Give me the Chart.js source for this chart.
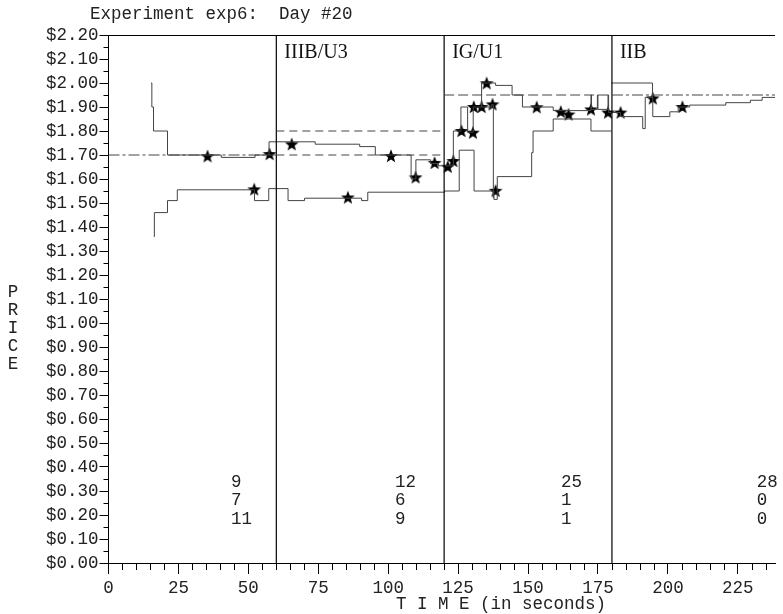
<!DOCTYPE html>
<html><head><meta charset="utf-8">
<script src="https://cdn.jsdelivr.net/npm/chart.js@4.4.1/dist/chart.umd.min.js"></script>
<style>html,body{margin:0;padding:0;background:#fff;}canvas{display:block;}</style>
</head><body>
<canvas id="c" width="783" height="614"></canvas>
<script>
// ---------------- data ----------------
const chartTitle = 'Experiment exp6:  Day #20';
const xTitle = 'T I M E (in seconds)';
const yTitle = 'PRICE';
const xTicks = [0, 25, 50, 75, 100, 125, 150, 175, 200, 225];
const yTicks = [0.00,0.10,0.20,0.30,0.40,0.50,0.60,0.70,0.80,0.90,1.00,1.10,1.20,1.30,1.40,1.50,1.60,1.70,1.80,1.90,2.00,2.10,2.20];
const xMax = 238.3;
const periodBounds = [0, 60, 120, 180, xMax];
const periodLabels = ['', 'IIIB/U3', 'IG/U1', 'IIB'];
const periodCounts = [[9, 7, 11], [12, 6, 9], [25, 1, 1], [28, 0, 0]];
const countX = [43.8, 102.4, 161.8, 231.8];
const eqPrices = [[1.70], [1.80, 1.70], [1.95], [1.95]];

// step lines: [time, price] - price holds from that time on
const askLine = [[15.2,2.00],[15.5,1.90],[16.1,1.80],[21.1,1.70],[40.3,1.69],[52.4,1.70],[57.4,1.755],
  [73.9,1.745],[89.8,1.735],[95.4,1.70],[108.2,1.60],[109.9,1.68],[115.2,1.665],[118,1.655],
  [123.3,1.80],[126,1.90],[128.4,1.795],[130.4,1.90],[133.4,2.00],[138.4,1.99],[144.3,1.95],
  [148,1.90],[159,1.885],[172.5,1.95],[172.7,1.89],[174.8,1.95],[175,1.89],[178.6,1.95],
  [178.8,1.877],[183.1,1.86],[191,1.81],[191.9,1.94],[194.6,1.86],[200.7,1.88],[203.7,1.90],
  [207.8,1.908],[220.7,1.918],[229.5,1.928],[233.7,1.94],[238.3,1.94]];
const bidLine = [[16.2,1.36],[16.4,1.46],[21.1,1.51],[24.6,1.555],[52.2,1.51],[57.3,1.56],[64.2,1.51],
  [70.1,1.52],[90.5,1.51],[92.7,1.545],[120.2,1.55],[125.4,1.72],[130.7,1.55],[137.8,1.515],
  [139.0,1.61],[151.3,1.71],[151.8,1.80],[159,1.85],[172.5,1.80],[179.8,1.80]];
const jumpLine = [[133.4,1.90],[137.0,1.91],[137.6,1.52]];
const lateAskLine = [[179.8,2.00],[194.3,2.00],[194.5,1.94]];

const tradeT = [35.4,52.1,57.6, 65.5,85.6,101,109.8,116.6,
  121.3,123.3,126.2,130.3,130.6,133.4,135.2,137.3,138.4,153.1,161.7,164.5,172.5,178.6,
  183.1,194.6,205.2];
const tradeP = [1.695,1.557,1.704, 1.745,1.523,1.696,1.607,1.667,
  1.651,1.675,1.80,1.793,1.90,1.90,1.999,1.911,1.551,1.899,1.88,1.869,1.89,1.877,
  1.877,1.936,1.90];

// ---------------- helpers ----------------
const MONO = "'Liberation Mono','DejaVu Sans Mono',monospace";
const SERIF = "'Liberation Serif','DejaVu Serif',serif";
const pts = a => a.map(([x, y]) => ({x, y}));

function makeStar(){
  const c = document.createElement('canvas');
  c.width = 16; c.height = 16;
  const g = c.getContext('2d');
  g.fillStyle = '#000';
  g.beginPath();
  for (let i = 0; i < 10; i++) {
    const r = i % 2 === 0 ? 7.2 : 3.0;
    const a = -Math.PI / 2 + i * Math.PI / 5;
    const px = 8 + r * Math.cos(a), py = 8.5 + r * Math.sin(a);
    i === 0 ? g.moveTo(px, py) : g.lineTo(px, py);
  }
  g.closePath(); g.fill();
  return c;
}
const star = makeStar();

const datasets = [];
// equilibrium lines
eqPrices.forEach((list, i) => {
  const dashDot = (i === 0 || i === 3);
  list.forEach(p => datasets.push({
    type: 'line', data: [{x: periodBounds[i], y: p}, {x: periodBounds[i + 1], y: p}],
    borderColor: '#444', borderWidth: 1, borderDash: dashDot ? [11, 3, 3, 3] : (i === 1 ? [8, 5] : [10, 4]),
    pointRadius: 0, fill: false
  }));
});
// period separators
periodBounds.slice(1, 4).forEach(t => datasets.push({
  type: 'line', data: [{x: t, y: 0}, {x: t, y: 2.2}],
  borderColor: '#000', borderWidth: 1.2, pointRadius: 0, fill: false
}));
// step lines
[askLine, bidLine, jumpLine, lateAskLine].forEach(a => datasets.push({
  type: 'line', data: pts(a), stepped: 'before',
  borderColor: '#444', borderWidth: 1, pointRadius: 0, fill: false
}));
// trades
datasets.push({
  type: 'scatter', data: tradeT.map((t, i) => ({x: t, y: tradeP[i]})),
  pointStyle: star, pointRadius: 7, pointHoverRadius: 7
});

const decor = {
  id: 'decor',
  afterDraw(chart) {
    const {ctx, chartArea: ca, scales: {x, y}} = chart;
    ctx.save();
    ctx.strokeStyle = '#000'; ctx.lineWidth = 1;
    // top frame line
    ctx.beginPath(); ctx.moveTo(ca.left, ca.top + 0.5); ctx.lineTo(ca.right, ca.top + 0.5); ctx.stroke();
    // minor ticks
    ctx.beginPath();
    for (let t = 5; t < xMax; t += 5) {
      if (t % 25 === 0) continue;
      const px = Math.round(x.getPixelForValue(t)) + 0.5;
      ctx.moveTo(px, ca.bottom); ctx.lineTo(px, ca.bottom + 7);
    }
    for (let i = 0; i < yTicks.length - 1; i++) {
      const py = Math.round(y.getPixelForValue(yTicks[i] + 0.05)) + 0.5;
      ctx.moveTo(ca.left - 5, py); ctx.lineTo(ca.left, py);
    }
    ctx.stroke();
    ctx.fillStyle = '#222';
    // title
    ctx.font = '17.5px ' + MONO; ctx.textAlign = 'left'; ctx.textBaseline = 'middle';
    ctx.fillText(chartTitle, 90, 14);
    // x title
    ctx.textAlign = 'center';
    ctx.fillText(xTitle, 501, 604);
    // y title, stacked letters
    yTitle.split('').forEach((ch, i) => ctx.fillText(ch, 13, 292 + i * 18));
    // counts
    ctx.textAlign = 'left';
    periodCounts.forEach((rows, i) => {
      const px = x.getPixelForValue(countX[i]);
      rows.forEach((v, r) => ctx.fillText(String(v), px, 482 + r * 18.5));
    });
    // period labels
    ctx.fillStyle = '#111';
    ctx.font = '20px ' + SERIF; ctx.textBaseline = 'alphabetic';
    periodLabels.forEach((lab, i) => {
      if (!lab) return;
      ctx.fillText(lab, x.getPixelForValue(periodBounds[i]) + 8, ca.top + 23);
    });
    ctx.restore();
  }
};

new Chart(document.getElementById('c'), {
  data: {datasets},
  options: {
    responsive: false, animation: false, parsing: true,
    layout: {padding: {left: 0, right: 0, top: 35, bottom: 0}},
    plugins: {legend: {display: false}, tooltip: {enabled: false}, title: {display: false}},
    scales: {
      x: {
        type: 'linear', min: 0, max: xMax,
        afterBuildTicks: s => { s.ticks = xTicks.map(v => ({value: v})); },
        ticks: {font: {family: MONO, size: 17.5}, color: '#222', padding: 4, maxRotation: 0, autoSkip: false,
          callback: v => String(v)},
        grid: {drawOnChartArea: false, drawTicks: true, tickLength: 11, color: '#000', tickColor: '#000'},
        border: {display: true, color: '#000', width: 1},
        afterFit: s => { s.height = 51; }
      },
      y: {
        type: 'linear', min: 0, max: 2.2,
        afterBuildTicks: s => { s.ticks = yTicks.map(v => ({value: v})); },
        ticks: {font: {family: MONO, size: 17.5}, color: '#222', padding: 1, autoSkip: false,
          callback: v => '$' + Number(v).toFixed(2)},
        grid: {drawOnChartArea: false, drawTicks: true, tickLength: 9, color: '#000', tickColor: '#000'},
        border: {display: true, color: '#000', width: 1},
        afterFit: s => { s.width = 108.5; }
      }
    }
  },
  plugins: [decor]
});
</script>
</body></html>
